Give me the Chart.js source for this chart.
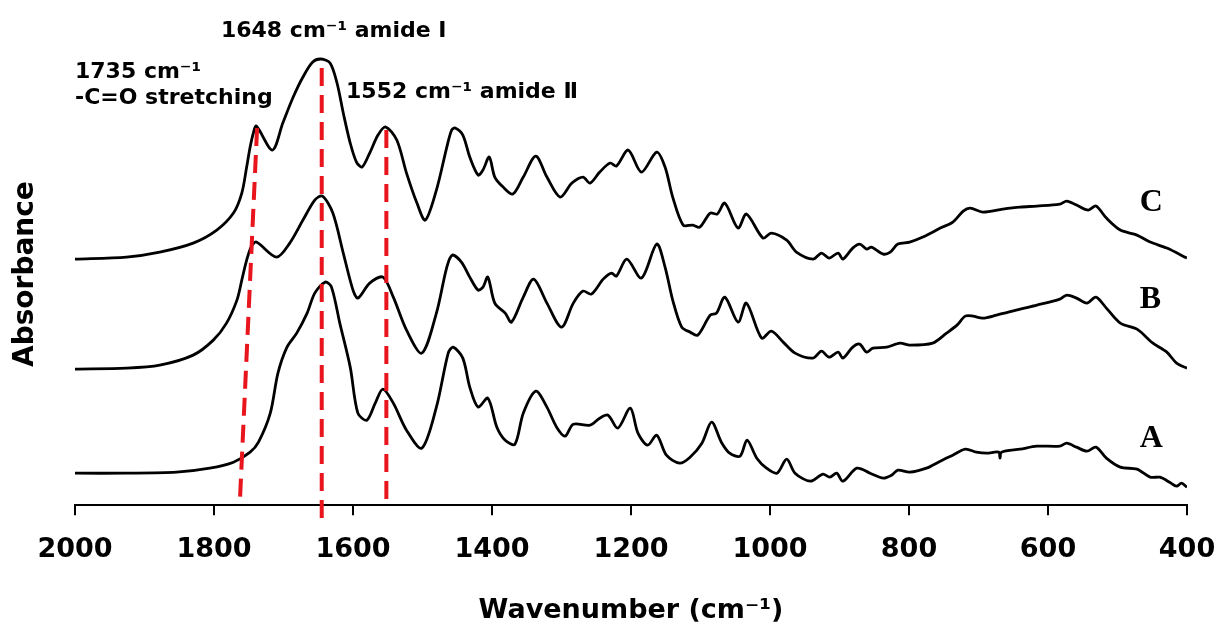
<!DOCTYPE html>
<html>
<head>
<meta charset="utf-8">
<title>FTIR spectra</title>
<script src="https://cdn.jsdelivr.net/npm/chart.js@4"></script>
<style>
    body { margin: 0; background: #fff; }
    #wrap { width: 1219px; height: 630px; }
</style>
</head>
<body>
<div id="wrap"><canvas id="grafico" width="1219" height="630"></canvas></div>
<script>
// Wavenumber ticks (cm-1)
const xTicks = [2000, 1800, 1600, 1400, 1200, 1000, 800, 600, 400];

// Spectrum C (top)
const cWn = [2000,1926,1878,1830,1796,1772,1760,1753,1748,1743,1739,1716,1701,1686,1672,1658,1646,1633,1623,1614,1604,1595,1587,1576,1564,1553,1537,1523,1508,1496,1480,1465,1458,1453,1442,1432,1420,1413,1404,1396,1384,1370,1355,1337,1321,1302,1285,1269,1259,1245,1230,1221,1204,1185,1163,1151,1140,1125,1111,1101,1086,1076,1065,1046,1034,1010,998,976,962,938,926,915,902,895,881,871,861,854,837,827,816,799,780,755,737,722,712,694,665,640,616,583,573,559,542,531,516,496,472,453,429,400];
const cAbs = [2.46,2.48,2.53,2.62,2.75,2.92,3.12,3.38,3.58,3.73,3.79,3.55,3.82,4.08,4.28,4.43,4.46,4.42,4.22,3.92,3.62,3.43,3.38,3.52,3.70,3.78,3.65,3.32,3.02,2.85,3.15,3.58,3.75,3.77,3.70,3.48,3.30,3.35,3.48,3.28,3.18,3.11,3.28,3.49,3.28,3.08,3.22,3.28,3.22,3.33,3.42,3.39,3.55,3.33,3.53,3.38,3.08,2.80,2.80,2.78,2.92,2.91,3.02,2.77,2.91,2.67,2.72,2.65,2.53,2.46,2.52,2.47,2.52,2.46,2.57,2.61,2.56,2.58,2.51,2.53,2.61,2.63,2.68,2.77,2.83,2.94,2.97,2.93,2.96,2.98,2.99,3.01,3.04,3.00,2.95,2.99,2.87,2.75,2.70,2.63,2.57,2.47];

// Spectrum B (middle)
const bWn = [2000,1926,1878,1830,1801,1782,1767,1760,1753,1746,1739,1710,1691,1672,1655,1644,1629,1614,1600,1593,1576,1557,1542,1523,1501,1480,1465,1457,1444,1432,1420,1413,1406,1396,1381,1372,1355,1340,1321,1300,1283,1269,1257,1240,1228,1221,1206,1185,1163,1151,1140,1127,1115,1104,1086,1077,1065,1046,1034,1012,998,981,964,938,926,915,902,895,881,871,861,852,832,813,799,766,746,731,719,708,694,674,640,616,583,573,559,544,531,516,496,472,449,429,415,400];
const bAbs = [1.36,1.37,1.40,1.50,1.65,1.82,2.05,2.25,2.45,2.59,2.63,2.48,2.62,2.85,3.05,3.09,2.92,2.52,2.15,2.07,2.22,2.28,2.08,1.75,1.52,1.92,2.38,2.50,2.43,2.28,2.15,2.18,2.28,2.02,1.92,1.83,2.08,2.26,2.02,1.78,2.02,2.14,2.11,2.26,2.32,2.29,2.46,2.27,2.61,2.38,2.05,1.78,1.73,1.70,1.90,1.92,2.08,1.83,2.02,1.67,1.74,1.63,1.52,1.47,1.54,1.48,1.53,1.47,1.58,1.61,1.53,1.57,1.58,1.62,1.60,1.62,1.72,1.80,1.89,1.89,1.87,1.90,1.96,2.00,2.06,2.10,2.07,2.02,2.08,1.97,1.82,1.76,1.62,1.53,1.42,1.37];

// Spectrum A (bottom)
const aWn = [2000,1926,1854,1806,1772,1748,1736,1719,1708,1695,1681,1666,1655,1640,1631,1619,1604,1593,1580,1568,1557,1542,1523,1501,1480,1463,1456,1442,1432,1420,1406,1393,1381,1367,1355,1337,1321,1307,1295,1283,1259,1245,1233,1219,1201,1190,1176,1163,1149,1130,1115,1098,1084,1070,1058,1043,1033,1019,1005,990,976,964,942,924,914,904,895,875,856,837,825,816,799,775,755,737,719,703,688,671,669,667,640,616,583,573,559,544,531,516,496,472,453,439,425,415,408,400];
const aAbs = [0.32,0.32,0.33,0.37,0.43,0.53,0.63,0.92,1.32,1.58,1.72,1.92,2.12,2.23,2.18,1.82,1.38,0.92,0.85,1.02,1.16,1.02,0.75,0.57,0.98,1.52,1.58,1.47,1.18,0.98,1.07,0.78,0.65,0.61,0.92,1.14,0.98,0.78,0.69,0.81,0.80,0.87,0.90,0.77,0.97,0.72,0.60,0.70,0.50,0.42,0.48,0.62,0.83,0.63,0.52,0.49,0.65,0.47,0.37,0.32,0.46,0.32,0.24,0.31,0.28,0.32,0.24,0.37,0.32,0.27,0.30,0.35,0.33,0.37,0.44,0.50,0.56,0.53,0.52,0.53,0.47,0.53,0.56,0.59,0.59,0.62,0.58,0.54,0.58,0.47,0.38,0.36,0.28,0.28,0.23,0.19,0.22,0.18];

// Red dashed marker lines (top end / bottom end)
const markTopWn = [1738, 1645, 1552];
const markTopAbs = [3.77, 4.37, 3.75];
const markBottomWn = [1763, 1645, 1552];
const markBottomAbs = [0, -0.15, 0.02];

// Text notes, anchored in data units (left edge, baseline)
const notes = [
    { text: '1648 cm⁻¹ amide Ⅰ', wn: 1790, abs: 4.68, font: 'bold 22px "DejaVu Sans"' },
    { text: '1735 cm⁻¹', wn: 2000, abs: 4.27, font: 'bold 22px "DejaVu Sans"' },
    { text: '-C=O stretching', wn: 2000, abs: 4.01, font: 'bold 22px "DejaVu Sans"' },
    { text: '1552 cm⁻¹ amide Ⅱ', wn: 1610, abs: 4.07, font: 'bold 22px "DejaVu Sans"' },
    { text: 'C', wn: 468, abs: 2.94, font: 'bold 32px "Liberation Serif"' },
    { text: 'B', wn: 468, abs: 1.97, font: 'bold 32px "Liberation Serif"' },
    { text: 'A', wn: 468, abs: 0.58, font: 'bold 32px "Liberation Serif"' }
];

function toPoints(wn, vals) {
    return wn.map((w, i) => ({ x: w, y: vals[i] }));
}

const notesPlugin = {
    id: 'notes',
    afterDatasetsDraw(chart) {
        const ctx = chart.ctx;
        const x = chart.scales.x;
        const y = chart.scales.y;
        ctx.save();
        ctx.fillStyle = '#000';
        ctx.textAlign = 'left';
        ctx.textBaseline = 'alphabetic';
        notes.forEach(n => {
            ctx.font = n.font;
            ctx.fillText(n.text, x.getPixelForValue(n.wn), y.getPixelForValue(n.abs));
        });
        ctx.restore();
    }
};

function buildChart() {
    const markers = markTopWn.map((w, i) => ({
        data: [
            { x: w, y: markTopAbs[i] },
            { x: markBottomWn[i], y: markBottomAbs[i] }
        ],
        borderColor: '#e8151d',
        borderWidth: 4,
        borderDash: [18, 9],
        pointRadius: 0,
        tension: 0,
        clip: false
    }));

    const spectra = [[cWn, cAbs], [bWn, bAbs], [aWn, aAbs]].map(([w, v]) => ({
        data: toPoints(w, v),
        borderColor: '#000',
        borderWidth: 2.8,
        pointRadius: 0,
        tension: 0.3
    }));

    new Chart(document.getElementById('grafico'), {
        type: 'line',
        data: { datasets: markers.concat(spectra) },
        options: {
            responsive: false,
            animation: false,
            devicePixelRatio: 1,
            layout: { padding: { left: 5, right: 32, top: 43, bottom: 1 } },
            plugins: { legend: { display: false }, tooltip: { enabled: false } },
            scales: {
                x: {
                    type: 'linear',
                    reverse: true,
                    min: 400,
                    max: 2000,
                    afterBuildTicks: s => { s.ticks = xTicks.map(v => ({ value: v })); },
                    afterFit: s => { s.paddingLeft = 0; s.paddingRight = 0; },
                    grid: { drawOnChartArea: false, drawTicks: true, tickLength: 10, color: '#000', lineWidth: 2 },
                    border: { display: true, color: '#000', width: 2 },
                    ticks: {
                        color: '#000',
                        padding: 19,
                        maxRotation: 0,
                        autoSkip: false,
                        callback: v => String(v),
                        font: { family: 'DejaVu Sans', size: 27, weight: 'bold' }
                    },
                    title: {
                        display: true,
                        text: 'Wavenumber (cm⁻¹)',
                        color: '#000',
                        font: { family: 'DejaVu Sans', size: 27, weight: 'bold' },
                        padding: { top: 9, bottom: 2 }
                    }
                },
                y: {
                    min: 0,
                    max: 4.62,
                    afterFit: s => { s.width = 70; },
                    grid: { display: false, drawTicks: false },
                    border: { display: false },
                    ticks: { display: false },
                    title: {
                        display: true,
                        text: 'Absorbance',
                        color: '#000',
                        font: { family: 'DejaVu Sans', size: 28, weight: 'bold' },
                        padding: { top: 4, bottom: 0 }
                    }
                }
            }
        },
        plugins: [notesPlugin]
    });
}

document.addEventListener('DOMContentLoaded', buildChart);
</script>
</body>
</html>
